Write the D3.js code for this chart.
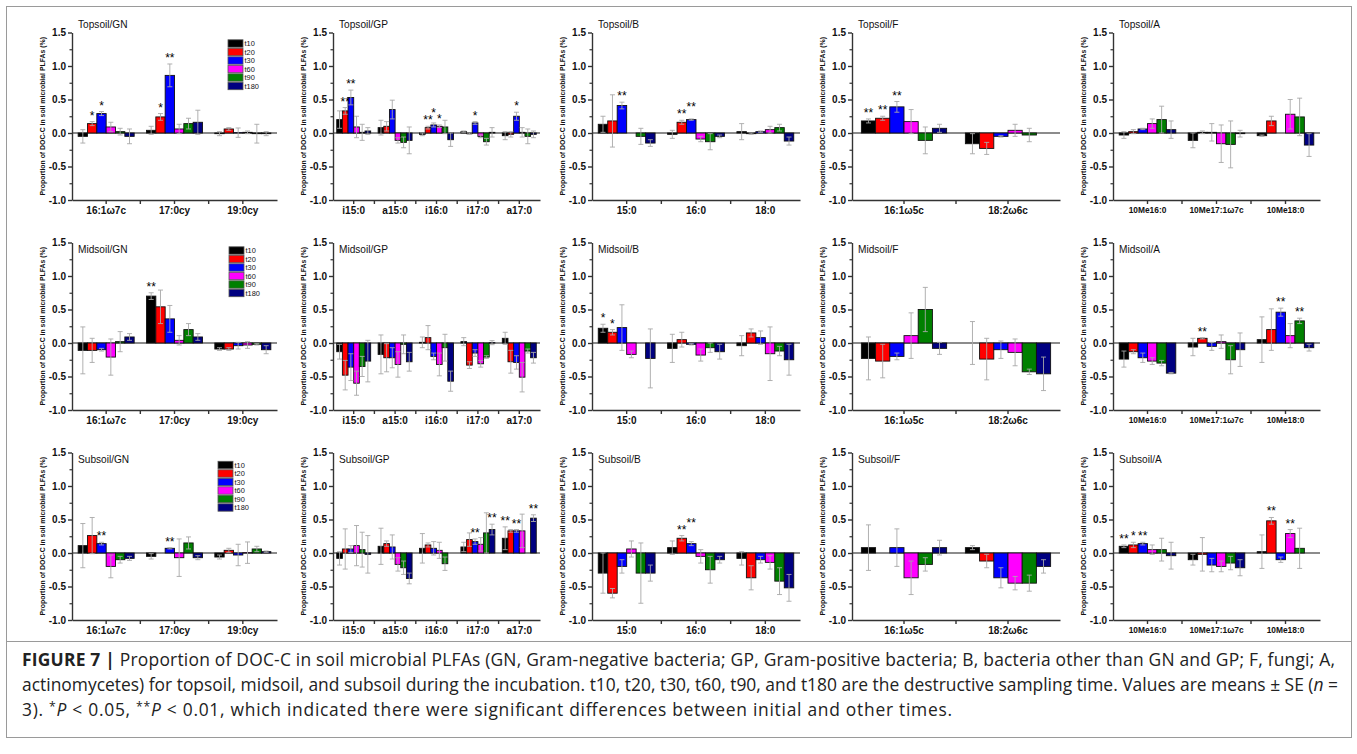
<!DOCTYPE html>
<html>
<head>
<meta charset="utf-8">
<script src="https://cdn.jsdelivr.net/npm/d3@7"></script>
<style>
  body { margin: 0; background: #fff; }
  svg text { font-family: 'Liberation Sans', Arial, sans-serif; }
  .caption text { font-family: 'Open Sans', 'Noto Sans', sans-serif; fill: #222; }
</style>
</head>
<body>
<svg id="fig" width="1357" height="754"></svg>
<script>
// sampling times (series) and panel names
const series = ['t10', 't20', 't30', 't60', 't90', 't180']
const depths = ['Topsoil', 'Midsoil', 'Subsoil']
const groups = ['GN', 'GP', 'B', 'F', 'A']

// PLFA categories per group
const catsGN = ['16:1ω7c', '17:0cy', '19:0cy']
const catsGP = ['i15:0', 'a15:0', 'i16:0', 'i17:0', 'a17:0']
const catsB = ['15:0', '16:0', '18:0']
const catsF = ['16:1ω5c', '18:2ω6c']
const catsA = ['10Me16:0', '10Me17:1ω7c', '10Me18:0']

const yTicks = [-1.0, -0.5, 0.0, 0.5, 1.0, 1.5]
const yMinorTicks = [-0.75, -0.25, 0.25, 0.75, 1.25]

// values: one row per category, one column per sampling time (null = no bar)
// se: standard errors, sig: [category index, series index, mark]
const topsoilGN = [[-0.05, 0.14, 0.29, 0.09, 0.02, -0.05], [0.04, 0.24, 0.86, 0.06, 0.14, 0.16], [-0.01, 0.06, 0.005, 0.01, -0.01, -0.01]]
const topsoilGNse = [[0.10, 0.03, 0.03, 0.07, 0.05, 0.11], [0.06, 0.05, 0.17, 0.07, 0.08, 0.18], [0.03, 0.02, 0.07, 0.02, 0.14, 0.03]]
const topsoilGNsig = [[0, 1, '*'], [0, 2, '*'], [1, 1, '*'], [1, 2, '**']]

const topsoilGP = [[0.20, 0.33, 0.53, 0.09, 0.01, 0.03], [0.08, 0.10, 0.35, -0.11, -0.14, -0.11], [-0.02, 0.08, 0.12, 0.10, 0.09, -0.10], [0.02, -0.01, 0.15, -0.05, -0.13, 0.01], [-0.04, -0.02, 0.25, 0.01, -0.05, -0.02]]
const topsoilGPse = [[0.13, 0.05, 0.11, 0.16, 0.12, 0.05], [0.11, 0.07, 0.14, 0.04, 0.08, 0.20], [0.02, 0.02, 0.03, 0.02, 0.10, 0.10], [0.01, 0.01, 0.02, 0.02, 0.05, 0.07], [0.06, 0.04, 0.06, 0.07, 0.11, 0.05]]
const topsoilGPsig = [[0, 1, '**'], [0, 2, '**'], [2, 1, '**'], [2, 2, '*'], [2, 3, '*'], [3, 2, '*'], [4, 2, '*']]

const topsoilB = [[0.13, 0.18, 0.41, null, -0.05, -0.15], [-0.02, 0.16, 0.20, -0.09, -0.13, -0.05], [0.02, -0.01, 0.02, 0.05, 0.08, -0.12]]
const topsoilBse = [[0.12, 0.39, 0.05, null, 0.12, 0.05], [0.06, 0.03, 0.01, 0.04, 0.12, 0.02], [0.12, 0.01, 0.01, 0.05, 0.05, 0.06]]
const topsoilBsig = [[0, 2, '**'], [1, 1, '**'], [1, 2, '**']]

const topsoilF = [[0.18, 0.22, 0.39, 0.17, -0.11, 0.07], [-0.16, -0.23, -0.05, 0.04, -0.03, null]]
const topsoilFse = [[0.03, 0.03, 0.08, 0.18, 0.20, 0.06], [0.15, 0.09, 0.01, 0.09, 0.10, null]]
const topsoilFsig = [[0, 0, '**'], [0, 1, '**'], [0, 2, '**']]

const topsoilA = [[-0.03, 0.02, 0.06, 0.14, 0.20, 0.05], [-0.11, 0.01, 0.01, -0.16, -0.17, -0.01], [-0.04, 0.18, null, 0.28, 0.24, -0.18]]
const topsoilAse = [[0.05, 0.03, 0.01, 0.07, 0.20, 0.13], [0.11, 0.02, 0.13, 0.28, 0.35, 0.05], [0.01, 0.07, null, 0.22, 0.28, 0.17]]
const topsoilAsig = []

const midsoilGN = [[-0.11, -0.11, -0.10, -0.21, 0.02, 0.09], [0.70, 0.54, 0.36, 0.04, 0.20, 0.09], [-0.09, -0.09, -0.04, -0.03, -0.02, -0.10]]
const midsoilGNse = [[0.35, 0.18, 0.02, 0.27, 0.15, 0.05], [0.05, 0.25, 0.20, 0.07, 0.09, 0.05], [0.02, 0.02, 0.05, 0.05, 0.01, 0.06]]
const midsoilGNsig = [[1, 0, '**']]

const midsoilGP = [[-0.13, -0.48, -0.36, -0.60, -0.35, -0.27], [-0.17, -0.22, -0.22, -0.32, -0.02, -0.28], [0.01, 0.08, -0.20, -0.32, -0.07, -0.57], [0.02, -0.33, -0.15, -0.31, -0.21, 0.005], [0.07, -0.28, -0.29, -0.51, -0.12, -0.22]]
const midsoilGPse = [[0.11, 0.22, 0.20, 0.18, 0.15, 0.31], [0.29, 0.21, 0.15, 0.19, 0.14, 0.14], [0.08, 0.18, 0.05, 0.17, 0.20, 0.15], [0.06, 0.05, 0.05, 0.05, 0.02, 0.03], [0.09, 0.17, 0.10, 0.22, 0.03, 0.08]]
const midsoilGPsig = []

const midsoilB = [[0.22, 0.16, 0.23, -0.17, null, -0.23], [-0.08, 0.05, -0.02, -0.18, -0.07, -0.13], [-0.04, 0.15, 0.08, -0.16, -0.12, -0.25]]
const midsoilBse = [[0.06, 0.04, 0.34, 0.05, null, 0.44], [0.21, 0.11, 0.01, 0.09, 0.07, 0.11], [0.15, 0.06, 0.10, 0.40, 0.07, 0.23]]
const midsoilBsig = [[0, 0, '*'], [0, 1, '*']]

const midsoilF = [[-0.23, -0.27, -0.20, 0.11, 0.50, -0.08], [0.0, -0.24, -0.10, -0.14, -0.43, -0.46]]
const midsoilFse = [[0.32, 0.25, 0.05, 0.34, 0.33, 0.09], [0.32, 0.31, 0.13, 0.20, 0.04, 0.25]]
const midsoilFsig = []

const midsoilA = [[-0.24, -0.13, -0.22, -0.27, -0.30, -0.45], [-0.06, 0.07, -0.05, 0.02, -0.25, -0.10], [0.05, 0.20, 0.46, 0.11, 0.33, -0.07]]
const midsoilAse = [[0.12, 0.03, 0.07, 0.05, 0.04, 0.01], [0.13, 0.01, 0.06, 0.10, 0.21, 0.25], [0.34, 0.31, 0.06, 0.18, 0.04, 0.05]]
const midsoilAsig = [[1, 1, '**'], [2, 2, '**'], [2, 4, '**']]

const subsoilGN = [[0.11, 0.26, 0.14, -0.20, -0.10, -0.08], [-0.05, null, 0.07, -0.07, 0.15, -0.07], [-0.06, 0.04, -0.03, 0.005, 0.06, 0.02]]
const subsoilGNse = [[0.33, 0.27, 0.02, 0.17, 0.05, 0.03], [0.04, null, 0.01, 0.28, 0.09, 0.03], [0.03, 0.03, 0.16, 0.16, 0.04, 0.01]]
const subsoilGNsig = [[0, 2, '**'], [1, 2, '**']]

const subsoilGP = [[-0.08, 0.06, 0.06, 0.11, 0.05, -0.02], [0.10, 0.14, 0.09, -0.17, -0.22, -0.38], [0.07, 0.12, 0.07, 0.04, -0.16, null], [0.09, 0.20, 0.17, 0.13, 0.30, 0.35], [0.22, 0.33, 0.33, 0.33, null, 0.52]]
const subsoilGPse = [[0.10, 0.30, 0.05, 0.30, 0.26, 0.28], [0.27, 0.04, 0.18, 0.10, 0.10, 0.08], [0.22, 0.03, 0.10, 0.12, 0.10, null], [0.07, 0.10, 0.04, 0.10, 0.30, 0.08], [0.17, 0.02, 0.02, 0.25, null, 0.05]]
const subsoilGPsig = [[3, 2, '**'], [3, 5, '**'], [4, 0, '**'], [4, 2, '**'], [4, 5, '**']]

const subsoilB = [[-0.30, -0.60, -0.20, 0.06, -0.30, -0.30], [0.08, 0.22, 0.14, -0.05, -0.25, -0.10], [-0.08, -0.37, -0.10, -0.14, -0.42, -0.52]]
const subsoilBse = [[0.30, 0.07, 0.10, 0.12, 0.45, 0.12], [0.10, 0.04, 0.03, 0.10, 0.20, 0.05], [0.10, 0.18, 0.05, 0.10, 0.20, 0.20]]
const subsoilBsig = [[1, 1, '**'], [1, 2, '**']]

const subsoilF = [[0.08, null, 0.08, -0.37, -0.17, 0.08], [0.08, -0.12, -0.37, -0.45, -0.45, -0.20]]
const subsoilFse = [[0.34, null, 0.28, 0.25, 0.10, 0.11], [0.03, 0.10, 0.15, 0.10, 0.12, 0.10]]
const subsoilFsig = []

const subsoilA = [[0.10, 0.12, 0.14, 0.05, 0.05, -0.04], [-0.10, -0.02, -0.18, -0.20, -0.15, -0.22], [0.02, 0.48, -0.10, 0.29, 0.07, null]]
const subsoilAse = [[0.02, 0.04, 0.02, 0.07, 0.17, 0.20], [0.08, 0.25, 0.10, 0.08, 0.10, 0.12], [0.25, 0.05, 0.04, 0.06, 0.30, null]]
const subsoilAsig = [[0, 0, '**'], [0, 1, '*'], [0, 2, '**'], [2, 1, '**'], [2, 3, '**']]

const colors = ['#000000', '#ff0000', '#0000ff', '#ff00ff', '#008000', '#000080']

const panels = [
  [catsGN, topsoilGN, topsoilGNse, topsoilGNsig],
  [catsGP, topsoilGP, topsoilGPse, topsoilGPsig],
  [catsB, topsoilB, topsoilBse, topsoilBsig],
  [catsF, topsoilF, topsoilFse, topsoilFsig],
  [catsA, topsoilA, topsoilAse, topsoilAsig],
  [catsGN, midsoilGN, midsoilGNse, midsoilGNsig],
  [catsGP, midsoilGP, midsoilGPse, midsoilGPsig],
  [catsB, midsoilB, midsoilBse, midsoilBsig],
  [catsF, midsoilF, midsoilFse, midsoilFsig],
  [catsA, midsoilA, midsoilAse, midsoilAsig],
  [catsGN, subsoilGN, subsoilGNse, subsoilGNsig],
  [catsGP, subsoilGP, subsoilGPse, subsoilGPsig],
  [catsB, subsoilB, subsoilBse, subsoilBsig],
  [catsF, subsoilF, subsoilFse, subsoilFsig],
  [catsA, subsoilA, subsoilAse, subsoilAsig]
].map((p, i) => ({
  title: depths[Math.floor(i / 5)] + '/' + groups[i % 5],
  cats: p[0],
  values: p[1],
  se: p[2],
  sig: p[3]
}))

// layout
const colX = [72, 333, 592, 852, 1113]
const colW = [205, 207, 208, 208, 207]
const rowTop = [32.5, 242.5, 452.5]
const plotH = 167.5
const titleDy = [-4.5, 10.5, 10.5]
const legendPos = [[228, 43.5], [229, 250.5], [218, 465]]

const svg = d3.select('#fig')

// figure frame
svg.append('rect')
  .attr('x', 6.5).attr('y', 6.5)
  .attr('width', 1345).attr('height', 731)
  .attr('fill', 'none').attr('stroke', '#9a9a9a')
svg.append('line')
  .attr('x1', 6.5).attr('x2', 1351.5)
  .attr('y1', 641.5).attr('y2', 641.5)
  .attr('stroke', '#9a9a9a')

const y = d3.scaleLinear().domain([-1, 1.5]).range([plotH, 0])

panels.forEach((p, i) => {
  const row = Math.floor(i / 5)
  const col = i % 5
  const w = colW[col]
  const g = svg.append('g')
    .attr('transform', 'translate(' + colX[col] + ',' + rowTop[row] + ')')

  const x = d3.scaleBand().domain(p.cats).range([0, w])
  const xs = d3.scaleBand().domain(series).range([0, x.bandwidth()]).paddingOuter(0.66)

  const bars = p.cats.flatMap((c, ci) => series.map((s, si) => ({
    c: c, s: s, si: si, v: p.values[ci][si], e: p.se[ci][si]
  }))).filter(d => d.v !== null)

  // zero line
  g.append('line')
    .attr('x1', 0).attr('x2', w)
    .attr('y1', y(0)).attr('y2', y(0))
    .attr('stroke', '#666').attr('stroke-width', 1.3)

  g.selectAll('.bar')
    .data(bars)
    .enter()
    .append('rect')
    .attr('class', 'bar')
    .attr('x', d => x(d.c) + xs(d.s))
    .attr('width', xs.bandwidth())
    .attr('y', d => y(Math.max(d.v, 0)))
    .attr('height', d => Math.abs(y(d.v) - y(0)))
    .attr('fill', d => colors[d.si])
    .attr('stroke', '#111')
    .attr('stroke-width', 0.9)

  // error bars
  const err = g.selectAll('.err')
    .data(bars)
    .enter()
    .append('g')
    .attr('class', 'err')
    .attr('transform', d => 'translate(' + (x(d.c) + xs(d.s) + xs.bandwidth() / 2) + ',0)')
    .attr('stroke', '#a8a8a8')
    .attr('stroke-width', 0.9)
  err.append('line')
    .attr('y1', d => y(d.v - d.e)).attr('y2', d => y(d.v + d.e))
  err.append('line')
    .attr('x1', -2.5).attr('x2', 2.5)
    .attr('y1', d => y(d.v + d.e)).attr('y2', d => y(d.v + d.e))
  err.append('line')
    .attr('x1', -2.5).attr('x2', 2.5)
    .attr('y1', d => y(d.v - d.e)).attr('y2', d => y(d.v - d.e))

  // significance marks, lifted when they would collide with a neighbour
  const placed = []
  const marks = p.sig.map(d => {
    const mx = x(p.cats[d[0]]) + xs(series[d[1]]) + xs.bandwidth() / 2
    const mw = d[2].length * 5
    let my = y(Math.max(p.values[d[0]][d[1]] + p.se[d[0]][d[1]], 0)) - 2
    let hit = true
    while (hit) {
      hit = false
      placed.forEach(q => {
        if (Math.abs(q.x - mx) < (q.w + mw) / 2 && Math.abs(q.y - my) < 7) {
          my = q.y - 7
          hit = true
        }
      })
    }
    const m = { x: mx, y: my, w: mw, text: d[2] }
    placed.push(m)
    return m
  })
  g.selectAll('.sig')
    .data(marks)
    .enter()
    .append('text')
    .attr('class', 'sig')
    .attr('text-anchor', 'middle')
    .attr('font-size', 12)
    .attr('x', d => d.x)
    .attr('y', d => d.y)
    .text(d => d.text)

  // y axis
  const yAxis = d3.axisLeft(y)
    .tickValues(yTicks)
    .tickSize(4)
    .tickSizeOuter(0)
    .tickPadding(2)
    .tickFormat(d => d.toFixed(1))
  const ya = g.append('g').attr('class', 'axis y-axis').call(yAxis)
  ya.selectAll('text').attr('font-size', 10).attr('font-weight', 'bold')
    .attr('font-family', "'Liberation Sans', Arial, sans-serif").attr('fill', '#111')
  ya.selectAll('line, path').attr('stroke', '#333').attr('stroke-width', 1.4)

  const yMinor = g.append('g').call(
    d3.axisLeft(y).tickValues(yMinorTicks).tickSize(2.5).tickFormat('')
  )
  yMinor.select('.domain').remove()
  yMinor.selectAll('line').attr('stroke', '#333').attr('stroke-width', 1.2)

  // x axis
  const xAxis = d3.axisBottom(x).tickSize(4).tickSizeOuter(0).tickPadding(3)
  const xa = g.append('g')
    .attr('class', 'axis x-axis')
    .attr('transform', 'translate(0,' + plotH + ')')
    .call(xAxis)
  xa.selectAll('text')
    .attr('font-size', col === 4 ? 8.4 : 10)
    .attr('font-weight', 'bold')
    .attr('font-family', "'Liberation Sans', Arial, sans-serif")
    .attr('fill', '#111')
  xa.selectAll('line, path').attr('stroke', '#333').attr('stroke-width', 1.4)
  d3.range(1, p.cats.length).forEach(k => {
    xa.append('line')
      .attr('x1', k * x.step()).attr('x2', k * x.step())
      .attr('y1', 0).attr('y2', 4)
      .attr('stroke', '#333').attr('stroke-width', 1.4)
  })

  // y axis title
  g.append('text')
    .attr('transform', 'translate(-27,' + (plotH / 2) + ') rotate(-90)')
    .attr('text-anchor', 'middle')
    .attr('font-size', 6.9)
    .attr('font-weight', 'bold')
    .attr('fill', '#111')
    .text('Proportion of DOC-C in soil microbial PLFAs (%)')

  // panel title
  const t = g.append('text')
    .attr('x', 6)
    .attr('y', titleDy[row])
    .attr('font-size', 11.5)
    .attr('fill', '#111')
    .text(p.title)
  t.attr('textLength', t.node().getComputedTextLength() * 0.88)
    .attr('lengthAdjust', 'spacingAndGlyphs')
})

// legends in the GN column
legendPos.forEach(pos => {
  const lg = svg.append('g').attr('transform', 'translate(' + pos[0] + ',' + pos[1] + ')')
  series.forEach((s, si) => {
    lg.append('rect')
      .attr('x', 0).attr('y', si * 8.5 - 3.7)
      .attr('width', 15).attr('height', 7.4)
      .attr('fill', colors[si])
      .attr('stroke', '#555').attr('stroke-width', 0.8)
    lg.append('text')
      .attr('x', 16.5).attr('y', si * 8.5 + 2.6)
      .attr('font-size', 7.4)
      .attr('fill', '#111')
      .text(s)
  })
})

// caption
const cap = svg.append('g').attr('class', 'caption')
const capLines = [
  [['FIGURE 7 |', 'b'], [' Proportion of DOC-C in soil microbial PLFAs (GN, Gram-negative bacteria; GP, Gram-positive bacteria; B, bacteria other than GN and GP; F, fungi; A,', '']],
  [['actinomycetes) for topsoil, midsoil, and subsoil during the incubation. t10, t20, t30, t60, t90, and t180 are the destructive sampling time. Values are means ± SE (', ''], ['n', 'i'], [' =', '']],
  [['3). ', ''], ['*', 's'], ['P', 'i'], [' < 0.05, ', ''], ['**', 's'], ['P', 'i'], [' < 0.01, which indicated there were significant differences between initial and other times.', '']]
]
const capWidths = [1313, 1316, 930]
const capNodes = capLines.map((parts, li) => {
  const tx = cap.append('text')
    .attr('x', 22)
    .attr('y', 666 + li * 25)
    .attr('font-size', 15)
  parts.forEach(pt => {
    const ts = tx.append('tspan').text(pt[0])
    if (pt[1] === 'b') ts.attr('font-weight', 'bold')
    if (pt[1] === 'i') ts.attr('font-style', 'italic')
    if (pt[1] === 's') ts.attr('baseline-shift', '40%').attr('font-size', '70%')
  })
  return tx
})
const capScale = d3.min(capNodes, (n, k) => capWidths[k] / n.node().getComputedTextLength())
capNodes.forEach((n, k) => {
  n.attr('font-size', 15 * capScale)
  n.attr('textLength', capWidths[k]).attr('lengthAdjust', 'spacing')
})
</script>
</body>
</html>
